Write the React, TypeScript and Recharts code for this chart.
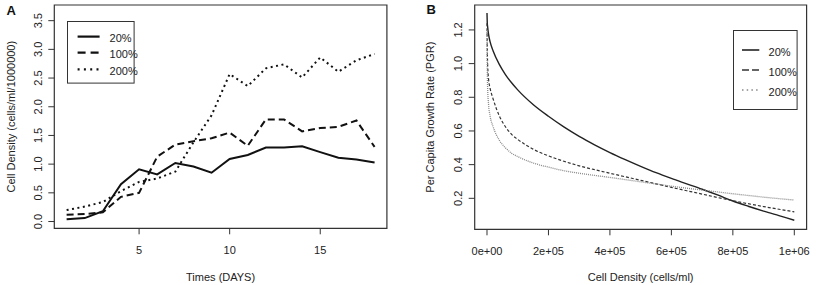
import React from 'react';
import { LineChart, Line, XAxis, YAxis, ReferenceArea, Legend, Label } from 'recharts';

const FONT = '"Liberation Sans", Arial, sans-serif';
const INK = '#222';

// ---------- Panel A data ----------
const aDays = [1, 2, 3, 4, 5, 6, 7, 8, 9, 10, 11, 12, 13, 14, 15, 16, 17, 18];
const a20 = [0.04, 0.06, 0.18, 0.65, 0.91, 0.82, 1.02, 0.96, 0.85, 1.09, 1.16, 1.29, 1.29, 1.31, 1.21, 1.11, 1.08, 1.03];
const a100 = [0.12, 0.13, 0.16, 0.43, 0.5, 1.13, 1.34, 1.4, 1.45, 1.55, 1.32, 1.78, 1.78, 1.57, 1.63, 1.65, 1.76, 1.3];
const a200 = [0.2, 0.26, 0.34, 0.53, 0.69, 0.75, 0.87, 1.38, 1.85, 2.57, 2.36, 2.67, 2.74, 2.51, 2.86, 2.61, 2.81, 2.92];
const aXTicks = [5, 10, 15];
const aYTicks = [0, 0.5, 1, 1.5, 2, 2.5, 3, 3.5];
const aXDomain = [0.32, 18.68];
const aYDomain = [-0.118, 3.773];

// ---------- Panel B data ----------
const bDensity = [0, 1000, 2000, 5000, 10000, 20000, 40000, 60000, 80000, 100000, 150000, 200000, 250000, 300000, 350000, 400000, 450000, 500000, 550000, 600000, 650000, 700000, 750000, 800000, 850000, 900000, 950000, 1000000];
const b20 = [1.3, 1.24, 1.22, 1.175, 1.13, 1.075, 0.995, 0.935, 0.886, 0.844, 0.757, 0.687, 0.624, 0.568, 0.518, 0.472, 0.43, 0.39, 0.352, 0.318, 0.286, 0.254, 0.22, 0.184, 0.153, 0.124, 0.097, 0.07];
const b100 = [1.24, 1.08, 1.0, 0.91, 0.855, 0.79, 0.69, 0.625, 0.58, 0.55, 0.492, 0.452, 0.42, 0.393, 0.37, 0.349, 0.328, 0.307, 0.286, 0.265, 0.245, 0.225, 0.205, 0.186, 0.168, 0.151, 0.135, 0.12];
const b200 = [1.2, 0.95, 0.86, 0.76, 0.69, 0.625, 0.545, 0.5, 0.468, 0.448, 0.41, 0.385, 0.364, 0.349, 0.336, 0.324, 0.311, 0.298, 0.285, 0.272, 0.26, 0.249, 0.238, 0.227, 0.217, 0.207, 0.198, 0.19];
const bXTicks = [0, 200000, 400000, 600000, 800000, 1000000];
const bXTickLabels = ['0e+00', '2e+05', '4e+05', '6e+05', '8e+05', '1e+06'];
const bYTicks = [0.2, 0.4, 0.6, 0.8, 1.0, 1.2];
const bXDomain = [-40000, 1040000];
const bYDomain = [0.016, 1.348];

const seriesNames = ['20%', '100%', '200%'];

const dataA = aDays.map((d, i) => ({ day: d, s20: a20[i], s100: a100[i], s200: a200[i] }));
const dataB = bDensity.map((d, i) => ({ n: d, s20: b20[i], s100: b100[i], s200: b200[i] }));

const styleA = [
  { stroke: '#111', width: 2, dash: undefined, legendDash: undefined },
  { stroke: '#111', width: 2, dash: '7 4', legendDash: '8 5' },
  { stroke: '#111', width: 2, dash: '2 3.5', legendDash: '2 4.3' },
];
const styleB = [
  { stroke: '#222', width: 1.4, dash: undefined, legendDash: undefined },
  { stroke: '#333', width: 1.2, dash: '3 2', legendDash: '7 3' },
  { stroke: '#888', width: 1.3, dash: '1 1', legendDash: '1.5 3.2' },
];

const makeXTick = (fmt: (v: number) => string) => (props: any) => {
  const { x, y, payload } = props;
  return (
    <text x={x} y={y} dy={17.7} textAnchor="middle" fontSize={11} fill={INK} fontFamily={FONT}>
      {fmt(payload.value)}
    </text>
  );
};

const makeYTick = (fmt: (v: number) => string) => (props: any) => {
  const { x, y, payload } = props;
  const X = x - 4.6;
  return (
    <text x={X} y={y} transform={`rotate(-90 ${X} ${y})`} textAnchor="middle" fontSize={11} fill={INK} fontFamily={FONT}>
      {fmt(payload.value)}
    </text>
  );
};

type LegendProps = {
  w: number; h: number; rowY: number[]; x1: number; x2: number; tx: number; styles: any[];
};
const LegendBox = ({ w, h, rowY, x1, x2, tx, styles }: LegendProps) => (
  <svg width={w} height={h} style={{ display: 'block', overflow: 'visible' }}>
    <rect x={0.5} y={0.5} width={w - 1} height={h - 1} fill="none" stroke="#333" strokeWidth={1} />
    {seriesNames.map((name, i) => (
      <g key={name}>
        <line x1={x1} x2={x2} y1={rowY[i]} y2={rowY[i]} stroke={styles[i].stroke}
          strokeWidth={styles[i].width + 0.2} strokeDasharray={styles[i].legendDash} />
        <text x={tx} y={rowY[i] + 5.5} fontSize={11} fill={INK} fontFamily={FONT}>{name}</text>
      </g>
    ))}
  </svg>
);

export default function App() {
  return (
    <div style={{ position: 'absolute', left: 0, top: 0, width: 819, height: 285, background: '#fff', overflow: 'hidden', fontFamily: FONT }}>
      {/* Panel A */}
      <div style={{ position: 'absolute', left: 0, top: 0 }}>
        <LineChart width={410} height={285} data={dataA} margin={{ top: 5, right: 23.1, bottom: 0, left: 0 }}>
          <XAxis dataKey="day" type="number" domain={aXDomain} ticks={aXTicks} axisLine={false}
            tickSize={6} tickLine={{ stroke: '#333' }} height={56.7} interval={0}
            tick={makeXTick((v) => String(v))}>
            <Label value="Times (DAYS)" position="insideBottom" offset={4.5} fill={INK} fontSize={11} fontFamily={FONT} />
          </XAxis>
          <YAxis type="number" domain={aYDomain} ticks={aYTicks} axisLine={false} width={54.3}
            tickSize={6} tickLine={{ stroke: '#333' }} interval={0}
            tick={makeYTick((v) => v.toFixed(1))}>
            <Label value="Cell Density (cells/ml/1000000)" angle={-90} position="insideLeft" offset={11}
              fill={INK} fontSize={11} fontFamily={FONT} style={{ textAnchor: 'middle' }} />
          </YAxis>
          <ReferenceArea x1={aXDomain[0]} x2={aXDomain[1]} y1={aYDomain[0]} y2={aYDomain[1]}
            fill="none" stroke="#333" strokeWidth={1.2} ifOverflow="visible" />
          {(['s20', 's100', 's200'] as const).map((k, i) => (
            <Line key={k} dataKey={k} name={seriesNames[i]} type="linear" dot={false} activeDot={false}
              stroke={styleA[i].stroke} strokeWidth={styleA[i].width} strokeDasharray={styleA[i].dash}
              isAnimationActive={false} />
          ))}
          <Legend layout="horizontal" verticalAlign="middle" align="center"
            wrapperStyle={{ left: 66.7, top: 20.7, width: 67.6, height: 62.6, margin: 0, padding: 0 }}
            content={() => <LegendBox w={67.6} h={62.6} rowY={[15.6, 31.6, 48.3]} x1={10.6} x2={32.6} tx={42.6} styles={styleA} />} />
        </LineChart>
      </div>

      {/* Panel B */}
      <div style={{ position: 'absolute', left: 410, top: 0 }}>
        <LineChart width={409} height={285} data={dataB} margin={{ top: 5, right: 12.4, bottom: 0, left: 0 }}>
          <XAxis dataKey="n" type="number" domain={bXDomain} ticks={bXTicks} axisLine={false}
            tickSize={6} tickLine={{ stroke: '#333' }} height={55.7} interval={0}
            tick={makeXTick((v) => bXTickLabels[bXTicks.indexOf(v)])}>
            <Label value="Cell Density (cells/ml)" position="insideBottom" offset={4.5} fill={INK} fontSize={11} fontFamily={FONT} />
          </XAxis>
          <YAxis type="number" domain={bYDomain} ticks={bYTicks} axisLine={false} width={64.7}
            tickSize={6} tickLine={{ stroke: '#333' }} interval={0}
            tick={makeYTick((v) => v.toFixed(1))}>
            <Label value="Per Capita Growth Rate (PGR)" angle={-90} position="insideLeft" offset={20}
              fill={INK} fontSize={11} fontFamily={FONT} style={{ textAnchor: 'middle' }} />
          </YAxis>
          <ReferenceArea x1={bXDomain[0]} x2={bXDomain[1]} y1={bYDomain[0]} y2={bYDomain[1]}
            fill="none" stroke="#333" strokeWidth={1.2} ifOverflow="visible" />
          {(['s20', 's100', 's200'] as const).map((k, i) => (
            <Line key={k} dataKey={k} name={seriesNames[i]} type="monotone" dot={false} activeDot={false}
              stroke={styleB[i].stroke} strokeWidth={styleB[i].width} strokeDasharray={styleB[i].dash}
              isAnimationActive={false} />
          ))}
          <Legend layout="horizontal" verticalAlign="middle" align="center"
            wrapperStyle={{ left: 322.7, top: 30, width: 64.6, height: 80, margin: 0, padding: 0 }}
            content={() => <LegendBox w={64.6} h={80} rowY={[20, 40, 60]} x1={9} x2={26.3} tx={35.6} styles={styleB} />} />
        </LineChart>
      </div>

      {/* Panel letters */}
      <svg width={819} height={285} style={{ position: 'absolute', left: 0, top: 0, pointerEvents: 'none' }}>
        <text x={6.5} y={15} fontSize={13} fontWeight="bold" fill="#111" fontFamily={FONT}>A</text>
        <text x={426.5} y={14} fontSize={13} fontWeight="bold" fill="#111" fontFamily={FONT}>B</text>
      </svg>
    </div>
  );
}
